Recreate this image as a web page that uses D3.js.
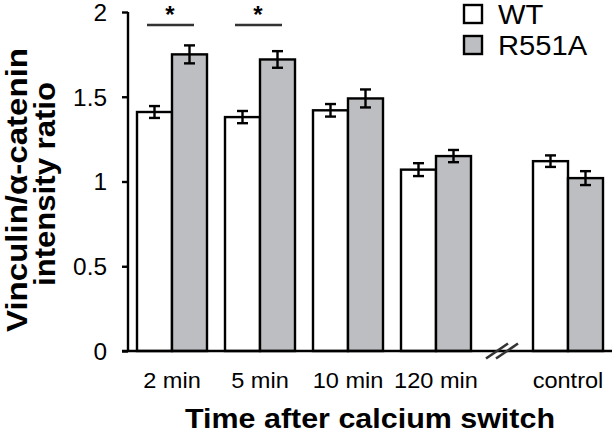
<!DOCTYPE html>
<html>
<head>
<meta charset="utf-8">
<script src="https://cdn.jsdelivr.net/npm/d3@7"></script>
<style>
  body { margin: 0; background: #fff; }
  text { font-family: Arial, "Liberation Sans", sans-serif; fill: #000; }
</style>
</head>
<body>
<svg id="chart" width="615" height="434"></svg>
<script>
"use strict";

// chart data
var categories = ['2 min', '5 min', '10 min', '120 min', 'control'];
var slots = [0, 1, 2, 3, 4.5];          // control sits after the axis break
var series = ['WT', 'R551A'];
var wtMeans = [1.41, 1.38, 1.42, 1.07, 1.12];
var wtErrors = [0.035, 0.036, 0.037, 0.038, 0.034];
var r551aMeans = [1.75, 1.72, 1.49, 1.15, 1.02];
var r551aErrors = [0.053, 0.049, 0.053, 0.036, 0.041];
var significant = [0, 1];               // groups marked with *
var yTicks = [0, 0.5, 1, 1.5, 2];

var svg = d3.select('#chart');
var fills = { 'WT': '#ffffff', 'R551A': '#bdbec1' };
var barW = 35;

var x = d3.scaleLinear().domain([0, 4.5]).range([137, 533]);
var y = d3.scaleLinear().domain([0, 2]).range([351, 12]);

// the text in the figure is a bit wider than plain Arial
function widen(sel, k) {
  sel.each(function() {
    var w = this.getComputedTextLength();
    d3.select(this).attr('textLength', w * k).attr('lengthAdjust', 'spacingAndGlyphs');
  });
}

var rows = categories.map(function(c, i) {
  return {
    cat: c, slot: slots[i],
    bars: [
      { s: 'WT', v: wtMeans[i], e: wtErrors[i], k: 0 },
      { s: 'R551A', v: r551aMeans[i], e: r551aErrors[i], k: 1 }
    ]
  };
});

// bars
var g = svg.append('g').selectAll('g.grp')
  .data(rows)
  .enter()
  .append('g')
  .attr('class', 'grp');

g.selectAll('rect')
  .data(d => d.bars.map(b => Object.assign({ slot: d.slot }, b)))
  .enter()
  .append('rect')
  .attr('x', d => x(d.slot) + d.k * barW)
  .attr('y', d => y(d.v))
  .attr('width', barW)
  .attr('height', d => y(0) - y(d.v))
  .attr('fill', d => fills[d.s])
  .attr('stroke', '#000')
  .attr('stroke-width', 2.4);

// error bars
var eb = g.selectAll('g.err')
  .data(d => d.bars.map(b => Object.assign({ slot: d.slot }, b)))
  .enter()
  .append('g')
  .attr('class', 'err')
  .attr('stroke', '#000')
  .attr('stroke-width', 2.4);
var cx = d => x(d.slot) + d.k * barW + barW / 2;
eb.append('line')
  .attr('x1', cx).attr('x2', cx)
  .attr('y1', d => y(d.v + d.e)).attr('y2', d => y(d.v - d.e));
[1, -1].forEach(function(sgn) {
  eb.append('line')
    .attr('x1', d => cx(d) - 5.5).attr('x2', d => cx(d) + 5.5)
    .attr('y1', d => y(d.v + sgn * d.e)).attr('y2', d => y(d.v + sgn * d.e));
});

// significance marks
var sig = svg.append('g').selectAll('g.sig')
  .data(significant)
  .enter()
  .append('g')
  .attr('class', 'sig');
sig.append('line')
  .attr('x1', i => x(slots[i]) + barW - 25)
  .attr('x2', i => x(slots[i]) + barW + 22)
  .attr('y1', y(1.923)).attr('y2', y(1.923))
  .attr('stroke', '#333').attr('stroke-width', 2.4);
sig.append('text')
  .attr('x', i => x(slots[i]) + barW - 2)
  .attr('y', 23)
  .attr('text-anchor', 'middle')
  .style('font-size', '24px')
  .style('font-weight', 'bold')
  .text('*');

// y axis
var yAxis = svg.append('g')
  .attr('transform', 'translate(128,0)')
  .call(d3.axisLeft(y).tickValues(yTicks).tickSize(6).tickPadding(15)
    .tickFormat(d3.format('')));
yAxis.select('.domain').attr('stroke', '#000').attr('stroke-width', 2.4)
  .attr('d', 'M0,' + y(2) + 'V' + y(0));
yAxis.selectAll('.tick line').attr('stroke', '#000').attr('stroke-width', 2.4);
yAxis.selectAll('.tick text').style('font-size', '23px').attr('dy', '0.36em');
widen(yAxis.selectAll('.tick text'), 1.06);

// x axis baseline and category labels
svg.append('line')
  .attr('x1', 122).attr('x2', 612)
  .attr('y1', y(0)).attr('y2', y(0))
  .attr('stroke', '#000').attr('stroke-width', 2.4);

var xl = svg.append('g').selectAll('text.cat')
  .data(rows)
  .enter()
  .append('text')
  .attr('class', 'cat')
  .attr('x', d => x(d.slot) + barW)
  .attr('y', 388)
  .attr('text-anchor', 'middle')
  .style('font-size', '22px')
  .text(d => d.cat);
widen(xl, 1.07);

// axis break //
var bx = (x(3) + x(4.5)) / 2 + barW;
[-5, 5].forEach(function(off) {
  svg.append('line')
    .attr('x1', bx + off - 11).attr('y1', y(0) + 7.5)
    .attr('x2', bx + off + 11).attr('y2', y(0) - 7.5)
    .attr('stroke', '#333').attr('stroke-width', 2.6);
});

// legend
var leg = svg.append('g').selectAll('g.leg')
  .data(series)
  .enter()
  .append('g')
  .attr('class', 'leg')
  .attr('transform', (d, i) => 'translate(464,' + (5 + i * 31) + ')');
leg.append('rect')
  .attr('width', 18).attr('height', 18)
  .attr('fill', d => fills[d])
  .attr('stroke', '#000').attr('stroke-width', 2.4);
var lt = leg.append('text')
  .attr('x', 34).attr('y', 19)
  .style('font-size', '27px')
  .text(d => d);
widen(lt, 1.08);

// axis titles
svg.append('text')
  .attr('x', 370).attr('y', 428)
  .attr('text-anchor', 'middle')
  .attr('textLength', 370).attr('lengthAdjust', 'spacingAndGlyphs')
  .style('font-size', '28px').style('font-weight', 'bold')
  .text('Time after calcium switch');

var yt = svg.append('g').attr('transform', 'rotate(-90)');
yt.append('text')
  .attr('x', -190).attr('y', 27)
  .attr('text-anchor', 'middle')
  .attr('textLength', 284).attr('lengthAdjust', 'spacingAndGlyphs')
  .style('font-size', '30px').style('font-weight', 'bold')
  .text('Vinculin/\u03b1-catenin');
yt.append('text')
  .attr('x', -184).attr('y', 55)
  .attr('text-anchor', 'middle')
  .attr('textLength', 204).attr('lengthAdjust', 'spacingAndGlyphs')
  .style('font-size', '30px').style('font-weight', 'bold')
  .text('intensity ratio');
</script>
</body>
</html>
